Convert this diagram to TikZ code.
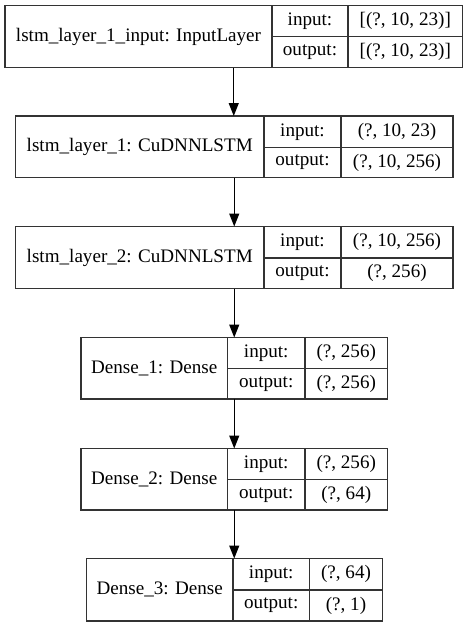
\documentclass[tikz,border=0pt]{standalone}
\usepackage{fontspec}
\setmainfont{Liberation Serif}
\usetikzlibrary{arrows.meta}
\tikzset{
  cell/.style={draw=black!80, line width=1.3pt, inner sep=0pt, outer sep=0pt, rectangle,
    font=\fontsize{19.1}{22}\selectfont, text=black},
  whole/.style={draw=black!80, line width=1.3pt, inner sep=0pt, outer sep=0pt, rectangle},
  arr/.style={draw=black, line width=1.3pt, -{Triangle[length=13pt,width=10pt]}},
}
% #1 name, #2 x0, #3 x1, #4 x2, #5 x3, #6 y0, #7 ym, #8 y1 ; texts in \Lab \In \Out
\newcommand\mklayer[8]{%
  \node[cell, minimum width={#3-#2}, minimum height={#8-#6}] (#1-name) at ({(#2+#3)/2},{(#6+#8)/2}) {\Lab};
  \node[cell, minimum width={#4-#3}, minimum height={#7-#6}] (#1-inl) at ({(#3+#4)/2},{(#6+#7)/2}) {input:};
  \node[cell, minimum width={#5-#4}, minimum height={#7-#6}] (#1-inv) at ({(#4+#5)/2},{(#6+#7)/2}) {\In};
  \node[cell, minimum width={#4-#3}, minimum height={#8-#7}] (#1-outl) at ({(#3+#4)/2},{(#7+#8)/2}) {output:};
  \node[cell, minimum width={#5-#4}, minimum height={#8-#7}] (#1-outv) at ({(#4+#5)/2},{(#7+#8)/2}) {\Out};
  \node[whole, minimum width={#5-#2}, minimum height={#8-#6}] (#1) at ({(#2+#5)/2},{(#6+#8)/2}) {};
}
\begin{document}
\begin{tikzpicture}[x=1pt,y=-1pt]
\useasboundingbox (0,0) rectangle (469,627);
\def\Lab{lstm\_layer\_1\_input: InputLayer}\def\In{[(?, 10, 23)]}\def\Out{[(?, 10, 23)]}
\mklayer{b1}{5}{272}{348}{462.5}{5.5}{36.5}{67.5}
\def\Lab{lstm\_layer\_1: CuDNNLSTM}\def\In{(?, 10, 23)}\def\Out{(?, 10, 256)}
\mklayer{b2}{15.5}{264}{341}{453}{116}{147.5}{177.5}
\def\Lab{lstm\_layer\_2: CuDNNLSTM}\def\In{(?, 10, 256)}\def\Out{(?, 256)}
\mklayer{b3}{15.5}{264}{341}{453}{226.5}{258}{288.5}
\def\Lab{Dense\_1: Dense}\def\In{(?, 256)}\def\Out{(?, 256)}
\mklayer{b4}{81}{227.5}{305}{387.5}{337.5}{368.5}{399}
\def\Lab{Dense\_2: Dense}\def\In{(?, 256)}\def\Out{(?, 64)}
\mklayer{b5}{81}{227.5}{305}{387.5}{448.5}{479.5}{510}
\def\Lab{Dense\_3: Dense}\def\In{(?, 64)}\def\Out{(?, 1)}
\mklayer{b6}{86.5}{233}{309.5}{382.5}{558.5}{590}{621}
\draw[arr] (b1.south) -- (b1.south |- b2.north);
\draw[arr] (b2.south) -- (b2.south |- b3.north);
\draw[arr] (b3.south) -- (b3.south |- b4.north);
\draw[arr] (b4.south) -- (b4.south |- b5.north);
\draw[arr] (b5.south) -- (b5.south |- b6.north);
\end{tikzpicture}
\end{document}
